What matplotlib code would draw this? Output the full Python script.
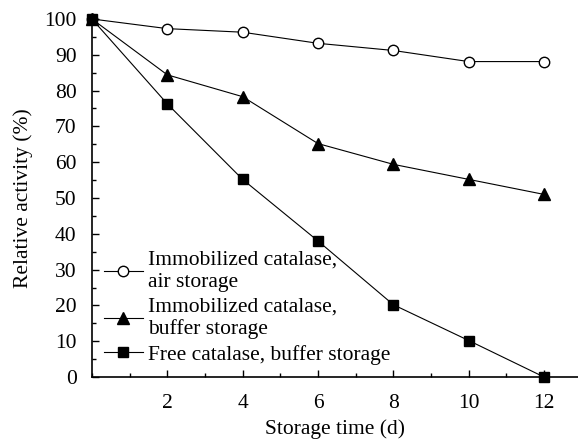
import matplotlib
matplotlib.use("Agg")
import matplotlib.pyplot as plt
from matplotlib.ticker import MultipleLocator

days = [0, 2, 4, 6, 8, 10, 12]
air_storage = [100, 97.3, 96.3, 93.2, 91.2, 88.1, 88.1]
buffer_immob = [100, 84.4, 78.3, 65.2, 59.4, 55.2, 51.0]
free_buffer = [100, 76.3, 55.2, 38.0, 20.2, 10.2, 0.0]
labels = ["Immobilized catalase,\nair storage",
          "Immobilized catalase,\nbuffer storage",
          "Free catalase, buffer storage"]
xticks = [2, 4, 6, 8, 10, 12]
yticks = list(range(0, 101, 10))

FS = 15.5
plt.rcParams['font.family'] = ['Liberation Serif', 'DejaVu Serif']
plt.rcParams['font.size'] = FS

fig = plt.figure(figsize=(5.78, 4.41), dpi=100)
ax = fig.add_axes([0.159, 0.145, 0.841, 0.812])

ax.plot(days, air_storage, color='black', lw=0.8, marker='o', ms=7.5,
        mfc='white', mec='black', mew=1.0, label=labels[0], clip_on=False, zorder=3)
ax.plot(days, buffer_immob, color='black', lw=0.8, marker='^', ms=8.5,
        mfc='black', mec='black', label=labels[1], clip_on=False, zorder=3)
ax.plot(days, free_buffer, color='black', lw=0.8, marker='s', ms=7.2,
        mfc='black', mec='black', label=labels[2], clip_on=False, zorder=4)

ax.set_xlim(0, 12.9)
ax.set_ylim(0, 100)
ax.set_xticks(xticks)
ax.set_yticks(yticks)
ax.xaxis.set_minor_locator(MultipleLocator(1))
ax.yaxis.set_minor_locator(MultipleLocator(5))
ax.tick_params(which='major', direction='in', length=5, width=1, labelsize=FS)
ax.tick_params(which='minor', direction='in', length=3, width=1)
ax.tick_params(axis='y', which='major', pad=11)
ax.tick_params(axis='x', which='major', pad=12)
for s in ['top', 'right']:
    ax.spines[s].set_visible(False)
for s in ['left', 'bottom']:
    ax.spines[s].set_linewidth(1.2)

ax.set_xlabel("Storage time (d)", fontsize=FS, labelpad=5)
ax.set_ylabel("Relative activity (%)", fontsize=FS, labelpad=8)

leg = ax.legend(loc='lower left', bbox_to_anchor=(0.025, 0.035), frameon=False,
                fontsize=FS, handlelength=1.8, handletextpad=0.25,
                labelspacing=0.25, borderpad=0, borderaxespad=0)

fig.savefig("out.png", dpi=100)
